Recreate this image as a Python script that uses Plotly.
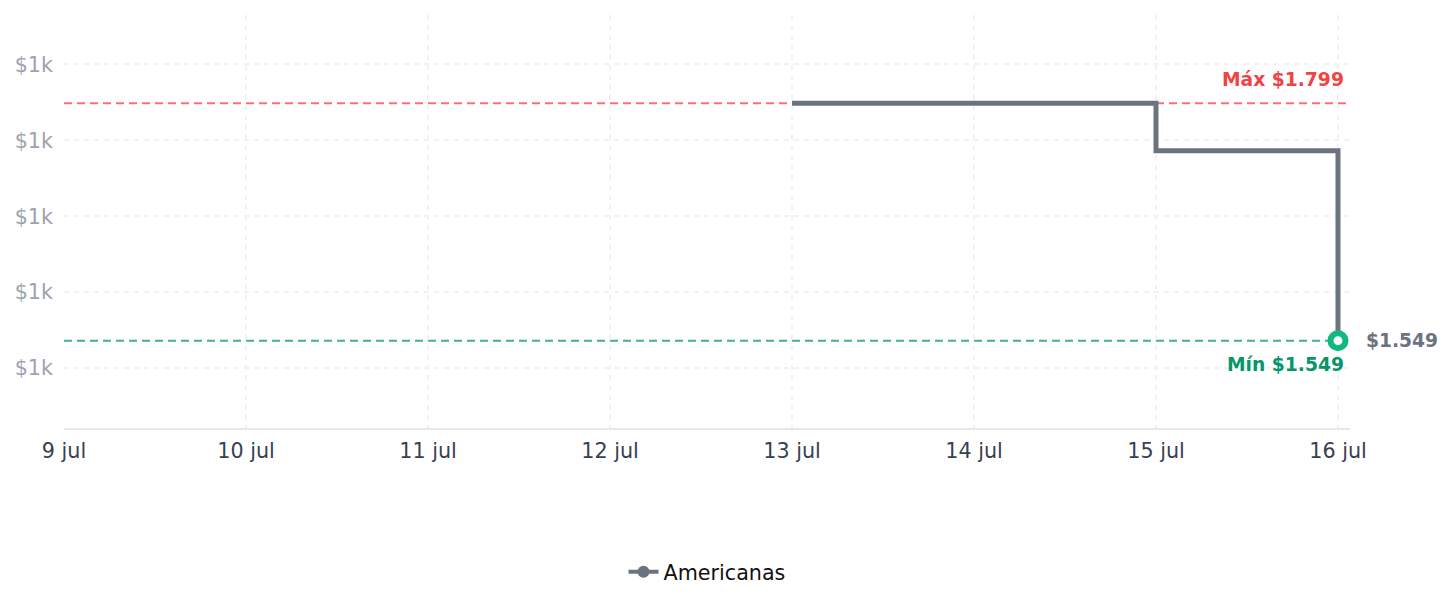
import plotly.graph_objects as go

dates = ["2024-07-13", "2024-07-14", "2024-07-15", "2024-07-16"]
prices = [1799, 1799, 1749, 1549]
series_name = "Americanas"
max_price = 1799
min_price = 1549
y_ticks = [1520, 1600, 1680, 1760, 1840]
y_tick_labels = ["$1k"] * 5
x_ticks = ["2024-07-09", "2024-07-10", "2024-07-11", "2024-07-12",
           "2024-07-13", "2024-07-14", "2024-07-15", "2024-07-16"]
x_tick_labels = ["9 jul", "10 jul", "11 jul", "12 jul", "13 jul", "14 jul", "15 jul", "16 jul"]

GREY = "#6b7280"
RED = "#ef4444"
GREEN = "#10b981"
DKGREEN = "#059669"
FONT = "DejaVu Sans"

fig = go.Figure()
fig.add_trace(go.Scatter(x=dates, y=prices, mode="lines", line=dict(color=GREY, width=5, shape="hv"),
                         showlegend=False, hoverinfo="skip"))
fig.add_trace(go.Scatter(x=[dates[-1]], y=[prices[-1]], mode="markers",
                         marker=dict(size=15, color="white", line=dict(color=GREEN, width=6)),
                         showlegend=False, cliponaxis=False))
fig.add_trace(go.Scatter(x=[None], y=[None], mode="lines+markers", name=series_name,
                         line=dict(color=GREY, width=4), marker=dict(size=12, color=GREY)))

x_start = "2024-07-09"
x_end = "2024-07-16 01:35"
fig.add_shape(type="line", xref="paper", x0=0, x1=1, y0=max_price, y1=max_price,
              line=dict(color="rgba(239,68,68,0.75)", width=2, dash="8px,5px"), layer="below")
fig.add_shape(type="line", xref="paper", x0=0, x1=1, y0=min_price, y1=min_price,
              line=dict(color="rgba(16,160,110,0.8)", width=2, dash="8px,5px"), layer="below")

fig.add_annotation(x=dates[-1], y=max_price, text="Máx $1.799", showarrow=False,
                   xanchor="right", yanchor="bottom", xshift=8, yshift=11,
                   font=dict(family=FONT, size=18.7, color=RED, weight="bold"))
fig.add_annotation(x=dates[-1], y=min_price, text="Mín $1.549", showarrow=False,
                   xanchor="right", yanchor="top", xshift=8, yshift=-11,
                   font=dict(family=FONT, size=18.7, color=DKGREEN, weight="bold"))
fig.add_annotation(x=dates[-1], y=min_price, text="$1.549", showarrow=False,
                   xanchor="left", yanchor="middle", xshift=26,
                   font=dict(family=FONT, size=18.7, color=GREY, weight="bold"))

fig.update_layout(
    width=1452, height=607,
    margin=dict(l=64, r=102, t=15, b=179),
    paper_bgcolor="white", plot_bgcolor="white",
    font=dict(family=FONT),
    showlegend=True,
    legend=dict(orientation="h", x=0.5, xanchor="center", y=-0.3, yanchor="top",
                font=dict(size=20.7, color="#111111", family=FONT)),
    xaxis=dict(range=[x_start, x_end], tickvals=x_ticks, ticktext=x_tick_labels,
               showgrid=True, gridcolor="#f2f2f2", griddash="5px,5px", gridwidth=2,
               showline=True, linecolor="#e5e7eb", linewidth=1.5,
               tickfont=dict(size=20.7, color="#374151", family=FONT), ticks="",
               ticklabelstandoff=3, zeroline=False),
    yaxis=dict(range=[1457, 1892], tickvals=y_ticks, ticktext=y_tick_labels,
               showgrid=True, gridcolor="#f2f2f2", griddash="5px,5px", gridwidth=2,
               showline=False, zeroline=False, ticks="", ticklabelstandoff=10,
               tickfont=dict(size=20.7, color="#9ca3af", family=FONT)),
)

fig.write_html("out.html")
